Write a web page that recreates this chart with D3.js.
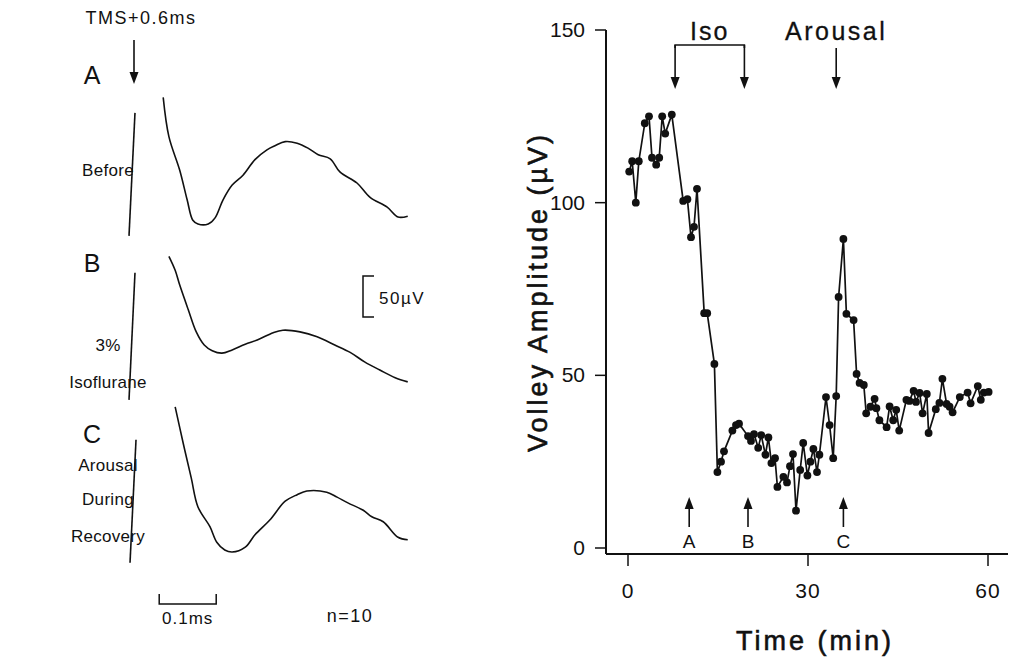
<!DOCTYPE html>
<html>
<head>
<meta charset="utf-8">
<script src="https://cdn.jsdelivr.net/npm/d3@7"></script>
<style>
  body { margin: 0; background: #fff; }
  text { font-family: "Liberation Sans", Arial, sans-serif; fill: #111; }
</style>
</head>
<body>
<svg id="chart" width="1015" height="657"></svg>
<script>
// --- right panel: volley amplitude vs time ---
const timeMin = [0.2,0.7,1.3,1.8,2.8,3.5,4.0,4.7,5.2,5.7,6.2,7.3,9.2,9.9,10.5,11.0,11.5,12.7,13.2,14.4,
  14.9,15.5,16.0,17.4,18.0,18.5,20.0,20.5,21.0,21.7,22.2,22.9,23.4,23.9,24.5,24.9,25.9,26.5,27.0,27.5,
  28.0,28.7,29.2,29.9,30.4,30.9,31.5,31.9,33.0,33.6,34.2,34.7,35.1,35.9,36.4,37.6,38.1,38.6,39.3,39.7,
  40.4,41.1,41.4,41.9,43.1,43.6,44.2,44.7,45.2,46.4,46.9,47.6,48.0,48.6,49.1,49.8,50.1,51.3,51.9,52.4,
  53.1,53.6,54.1,55.3,56.6,57.1,58.3,58.8,59.3,60.1];
const amplitude = [109,112,100,112,123,125,113,111,113,125,120,125.5,100.5,101,90,93,104,68,68,53.3,
  22,25,28,34,35.6,36,32.4,31,33,29,32.7,27,32,24.6,26,17.7,20.6,19,23.7,27.2,
  10.8,22.6,30.4,21,25,28.7,22,27,43.7,35.6,26,44,72.7,89.5,67.8,66,50.4,47.8,47.2,39,
  40.9,43.2,40.5,37,35,41,37,40,34,42.9,42.6,45.5,42.3,44.9,39,44.6,33.3,40.2,42,49,
  41.7,40.9,39.3,43.7,45,41.9,46.9,42.9,45,45.2];

const xTicks = [0, 30, 60];
const yTicks = [0, 50, 100, 150];
const isoMarks = [7.85, 19.4];
const arousalMark = 34.7;
const sampleMarks = [{ t: 10.2, label: 'A' }, { t: 20, label: 'B' }, { t: 35.9, label: 'C' }];

// --- left panel: averaged volley traces (ms, µV above each baseline) ---
const traceLabels = ['A', 'B', 'C'];
const traceNotes = [['Before'], ['3%', 'Isoflurane'], ['Arousal', 'During', 'Recovery']];
const artifactMs = [[0.0105, 0], [0.0105, 0], [0.0123, 0.0018]];
const artifactUv = [[155, 5], [160, 5], [154, 4]];
const traceAms = [0.060,0.070,0.089,0.102,0.112,0.121,0.139,0.151,0.165,0.181,0.200,0.221,0.242,
  0.256,0.274,0.295,0.314,0.332,0.353,0.370,0.400,0.423,0.453,0.472,0.489];
const traceAuv = [174,126,85,49,24,19.5,19.5,27,49,67,79,98,110,115,120,118,112,104,99,83,69.5,52,40,28,29];
const traceBms = [0.070,0.081,0.089,0.104,0.118,0.132,0.146,0.163,0.181,0.204,0.225,0.253,0.270,
  0.300,0.330,0.361,0.388,0.414,0.440,0.467,0.489];
const traceBuv = [180,163,145,115,88,72,65,62,66,73,78,87,90,88,82,72,63,51,41.5,32,27];
const traceCms = [0.081,0.095,0.109,0.121,0.142,0.154,0.168,0.181,0.204,0.221,0.247,0.274,0.295,
  0.312,0.347,0.365,0.384,0.411,0.426,0.446,0.472,0.489];
const traceCuv = [194,150,108,72,48,29,19.5,17,23,38,56,79,87,91.5,90,84,77,68,60,54,35,32];

const svg = d3.select('#chart');

// right panel scales
const x = d3.scaleLinear().domain([0, 60]).range([628, 988]);
const y = d3.scaleLinear().domain([0, 150]).range([548, 30]);
const axisX = 606, axisY = 554;

const right = svg.append('g');

right.append('line')
    .attr('x1', axisX).attr('x2', axisX)
    .attr('y1', y(150)).attr('y2', axisY)
    .attr('stroke', '#111').attr('stroke-width', 2);
right.append('line')
    .attr('x1', axisX).attr('x2', 1008)
    .attr('y1', axisY).attr('y2', axisY)
    .attr('stroke', '#111').attr('stroke-width', 2);

right.selectAll('.ytick')
  .data(yTicks)
  .join('line')
    .attr('x1', axisX - 11).attr('x2', axisX)
    .attr('y1', d => y(d)).attr('y2', d => y(d))
    .attr('stroke', '#111').attr('stroke-width', 1.5);
right.selectAll('.ylab')
  .data(yTicks)
  .join('text')
    .attr('x', 585).attr('y', d => y(d) + 7)
    .attr('text-anchor', 'end')
    .style('font-size', '21px')
    .text(d => d);

right.selectAll('.xtick')
  .data(xTicks)
  .join('line')
    .attr('x1', d => x(d)).attr('x2', d => x(d))
    .attr('y1', axisY).attr('y2', axisY + 12)
    .attr('stroke', '#111').attr('stroke-width', 1.5);
right.selectAll('.xlab')
  .data(xTicks)
  .join('text')
    .attr('x', d => x(d)).attr('y', 598)
    .attr('text-anchor', 'middle')
    .style('font-size', '21px').style('letter-spacing', '1px')
    .text(d => d);

right.append('text')
    .attr('x', 815).attr('y', 650)
    .attr('text-anchor', 'middle')
    .attr('stroke', '#111').attr('stroke-width', 0.6)
    .style('font-size', '27px').style('letter-spacing', '3px')
    .text('Time (min)');
right.append('text')
    .attr('transform', 'translate(547, 292) rotate(-90)')
    .attr('text-anchor', 'middle')
    .attr('stroke', '#111').attr('stroke-width', 0.6)
    .style('font-size', '27px').style('letter-spacing', '3px')
    .text('Volley Amplitude (µV)');

const points = timeMin.map((t, i) => ({ t, v: amplitude[i] }));
const line = d3.line().x(d => x(d.t)).y(d => y(d.v));

right.append('path')
    .datum(points)
    .attr('d', line)
    .attr('fill', 'none')
    .attr('stroke', '#111')
    .attr('stroke-width', 1.7);
right.selectAll('.dot')
  .data(points)
  .join('circle')
    .attr('cx', d => x(d.t)).attr('cy', d => y(d.v))
    .attr('r', 3.9)
    .attr('fill', '#111');

// arrows
function arrowDown(g, px, y1, y2) {
  g.append('line').attr('x1', px).attr('x2', px).attr('y1', y1).attr('y2', y2 - 10)
      .attr('stroke', '#111').attr('stroke-width', 1.6);
  g.append('path').attr('d', `M${px - 4.5},${y2 - 12} L${px + 4.5},${y2 - 12} L${px},${y2} Z`)
      .attr('fill', '#111');
}
function arrowUp(g, px, y1, y2) {
  g.append('line').attr('x1', px).attr('x2', px).attr('y1', y1).attr('y2', y2 + 10)
      .attr('stroke', '#111').attr('stroke-width', 1.6);
  g.append('path').attr('d', `M${px - 4.5},${y2 + 12} L${px + 4.5},${y2 + 12} L${px},${y2} Z`)
      .attr('fill', '#111');
}

right.append('path')
    .attr('d', `M${x(isoMarks[0])},${48} V45 H${x(isoMarks[1])} V48`)
    .attr('fill', 'none').attr('stroke', '#111').attr('stroke-width', 1.6);
isoMarks.forEach(t => arrowDown(right, x(t), 45, 89));
arrowDown(right, x(arousalMark), 48, 89);

right.append('text')
    .attr('x', d3.mean(isoMarks.map(x))).attr('y', 40)
    .attr('text-anchor', 'middle')
    .attr('stroke', '#111').attr('stroke-width', 0.3)
    .style('font-size', '25px').style('letter-spacing', '2px')
    .text('Iso');
right.append('text')
    .attr('x', x(arousalMark)).attr('y', 40)
    .attr('text-anchor', 'middle')
    .attr('stroke', '#111').attr('stroke-width', 0.3)
    .style('font-size', '25px').style('letter-spacing', '2.5px')
    .text('Arousal');

sampleMarks.forEach(m => {
  arrowUp(right, x(m.t), 527, 497);
  right.append('text')
      .attr('x', x(m.t)).attr('y', 548)
      .attr('text-anchor', 'middle')
      .style('font-size', '19px')
      .text(m.label);
});

// --- left panel ---
const left = svg.append('g');
const msScale = d3.scaleLinear().domain([0, 0.1]).range([129, 186]);
const baselines = [240, 404, 566];

const traceMs = [traceAms, traceBms, traceCms];
const traceUv = [traceAuv, traceBuv, traceCuv];

baselines.forEach((base, k) => {
  const uv = d3.scaleLinear().domain([0, 50]).range([base, base - 41]);
  const tl = d3.line().x(d => msScale(d[0])).y(d => uv(d[1]));
  left.append('path')
      .datum(artifactMs[k].map((m, i) => [m, artifactUv[k][i]]))
      .attr('d', tl)
      .attr('fill', 'none').attr('stroke', '#111').attr('stroke-width', 1.6);
  left.append('path')
      .datum(traceMs[k].map((m, i) => [m, traceUv[k][i]]))
      .attr('d', tl.curve(d3.curveCatmullRom))
      .attr('fill', 'none').attr('stroke', '#111').attr('stroke-width', 1.6);
});

const letterY = [84, 272, 443];
traceLabels.forEach((l, k) => {
  left.append('text')
      .attr('x', 92).attr('y', letterY[k])
      .attr('text-anchor', 'middle')
      .style('font-size', '25px')
      .text(l);
});
const noteY = [[176], [351, 388], [471, 505, 542]];
traceNotes.forEach((lines, k) => {
  lines.forEach((s, j) => {
    left.append('text')
        .attr('x', 108).attr('y', noteY[k][j])
        .attr('text-anchor', 'middle')
        .style('font-size', '17px').style('letter-spacing', '0.3px')
        .text(s);
  });
});

left.append('text')
    .attr('x', 141).attr('y', 24)
    .attr('text-anchor', 'middle')
    .style('font-size', '18px').style('letter-spacing', '1.5px')
    .text('TMS+0.6ms');
arrowDown(left, 134, 40, 84);

// scale bars
left.append('path')
    .attr('d', `M${msScale(0.053)},594 V604 H${msScale(0.153)} V594`)
    .attr('fill', 'none').attr('stroke', '#111').attr('stroke-width', 1.5);
left.append('text')
    .attr('x', (msScale(0.053) + msScale(0.153)) / 2).attr('y', 624)
    .attr('text-anchor', 'middle')
    .style('font-size', '17px').style('letter-spacing', '1px')
    .text('0.1ms');
left.append('path')
    .attr('d', `M374,276 H363 V317 H374`)
    .attr('fill', 'none').attr('stroke', '#111').attr('stroke-width', 1.5);
left.append('text')
    .attr('x', 379).attr('y', 304)
    .style('font-size', '17px').style('letter-spacing', '1.5px')
    .text('50µV');
left.append('text')
    .attr('x', 350).attr('y', 622)
    .attr('text-anchor', 'middle')
    .style('font-size', '18px').style('letter-spacing', '1.5px')
    .text('n=10');
</script>
</body>
</html>
